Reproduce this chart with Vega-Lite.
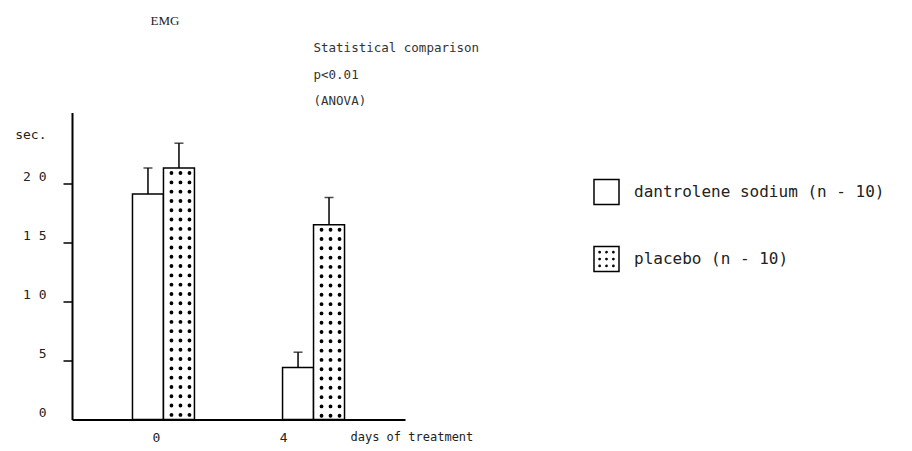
{
  "$schema": "https://vega.github.io/schema/vega-lite/v6.json",
  "width": 333,
  "height": 307,
  "autosize": {"type": "none"},
  "padding": {"left": 72, "top": 112.5, "right": 507, "bottom": 31.5},
  "data": {
    "values": [
      {"day": 0, "group": "dantrolene sodium (n - 10)", "value": 19.1, "upper": 21.3},
      {"day": 0, "group": "placebo (n - 10)", "value": 21.3, "upper": 23.4},
      {"day": 4, "group": "dantrolene sodium (n - 10)", "value": 4.4, "upper": 5.7},
      {"day": 4, "group": "placebo (n - 10)", "value": 16.5, "upper": 18.8}
    ]
  },
  "config": {
    "view": {"stroke": null},
    "font": "DejaVu Sans Mono",
    "axis": {"labelFont": "DejaVu Sans Mono", "titleFont": "DejaVu Sans Mono", "grid": false}
  },
  "resolve": {"axis": {"x": "independent", "y": "independent"}},
  "layer": [
    {
      "mark": {"type": "bar", "stroke": "black", "strokeWidth": 1.5},
      "encoding": {
        "x": {
          "field": "day", "type": "nominal",
          "scale": {"paddingInner": 0.587, "paddingOuter": 0.403},
          "axis": {
            "orient": "bottom",
            "domainColor": "black", "domainWidth": 2,
            "ticks": false,
            "labelAngle": 0,
            "labelPadding": 12,
            "labelFontSize": 13,
            "labelColor": "#222",
            "labelOffset": {"condition": {"test": "datum.value == 0", "value": -7}, "value": -30},
            "title": "days of treatment",
            "titleX": 278, "titleY": 17,
            "titleAlign": "left", "titleBaseline": "middle",
            "titleFontSize": 12, "titleFontWeight": "normal", "titleColor": "#222"
          }
        },
        "xOffset": {
          "field": "group", "type": "nominal",
          "sort": ["dantrolene sodium (n - 10)", "placebo (n - 10)"],
          "scale": {"paddingInner": 0, "paddingOuter": 0}
        },
        "y": {
          "field": "value", "type": "quantitative",
          "scale": {"domain": [0, 25]},
          "axis": {
            "values": [0, 5, 10, 15, 20, 25],
            "domainColor": "black", "domainWidth": 2,
            "tickColor": {"condition": {"test": "datum.value == 0 || datum.value == 25", "value": "transparent"}, "value": "black"},
            "tickSize": 9, "tickWidth": 1.5,
            "labelExpr": "datum.value == 25 ? 'sec.' : (datum.value >= 10 ? slice(datum.label, 0, 1) + ' ' + slice(datum.label, 1) : datum.label)",
            "labelFontSize": 13,
            "labelColor": "#222",
            "labelPadding": 17,
            "labelOffset": {"condition": {"test": "datum.value == 25", "value": 10}, "value": -7},
            "title": "EMG",
            "titleAngle": 0, "titleX": 78, "titleY": -92,
            "titleAlign": "left", "titleBaseline": "middle",
            "titleFont": "Liberation Serif", "titleFontSize": 13, "titleFontWeight": "normal", "titleColor": "#222"
          }
        },
        "fill": {
          "field": "group", "type": "nominal",
          "sort": ["dantrolene sodium (n - 10)", "placebo (n - 10)"],
          "scale": {"range": ["white", "white"]},
          "legend": {
            "orient": "none", "legendX": 521, "legendY": 66,
            "title": null,
            "padding": 0,
            "symbolType": "square", "symbolSize": 625,
            "symbolStrokeColor": "black", "symbolStrokeWidth": 1.5,
            "labelFont": "DejaVu Sans Mono", "labelFontSize": 16, "labelColor": "#222",
            "labelLimit": 400,
            "labelOffset": 14, "rowPadding": 36,
            "encode": {
              "symbols": {
                "update": {
                  "shape": {"signal": "datum.value === 'placebo (n - 10)' ? 'M-1,-1H1V1H-1Z M-0.6,-0.55a0.05,0.05 0 1,0 0.1,0a0.05,0.05 0 1,0 -0.1,0 M-0.05,-0.55a0.05,0.05 0 1,0 0.1,0a0.05,0.05 0 1,0 -0.1,0 M0.5,-0.55a0.05,0.05 0 1,0 0.1,0a0.05,0.05 0 1,0 -0.1,0 M-0.6,0a0.05,0.05 0 1,0 0.1,0a0.05,0.05 0 1,0 -0.1,0 M-0.05,0a0.05,0.05 0 1,0 0.1,0a0.05,0.05 0 1,0 -0.1,0 M0.5,0a0.05,0.05 0 1,0 0.1,0a0.05,0.05 0 1,0 -0.1,0 M-0.6,0.55a0.05,0.05 0 1,0 0.1,0a0.05,0.05 0 1,0 -0.1,0 M-0.05,0.55a0.05,0.05 0 1,0 0.1,0a0.05,0.05 0 1,0 -0.1,0 M0.5,0.55a0.05,0.05 0 1,0 0.1,0a0.05,0.05 0 1,0 -0.1,0' : 'square'"}
                }
              }
            }
          }
        }
      }
    },
    {
      "transform": [{"filter": "datum.group === 'placebo (n - 10)'"}],
      "mark": {"type": "rule", "color": "black", "xOffset": 8, "strokeWidth": 3.8, "strokeCap": "round", "strokeDash": [0.1, 9.2], "strokeDashOffset": 4.3},
      "encoding": {
        "x": {
          "field": "day", "type": "nominal",
          "axis": {
            "orient": "top",
            "domain": false, "ticks": false, "labels": false,
            "title": ["Statistical comparison", "p<0.01", "(ANOVA)"],
            "titleX": 241, "titleY": -71,
            "titleAlign": "left", "titleBaseline": "top",
            "titleFontSize": 12.5, "titleFontWeight": "normal",
            "titleLineHeight": 26.5, "titleColor": "#333"
          }
        },
        "y": {"field": "value", "type": "quantitative", "axis": null},
        "y2": {"datum": 0}
      }
    },
    {
      "transform": [{"filter": "datum.group === 'placebo (n - 10)'"}],
      "mark": {"type": "rule", "color": "black", "xOffset": 17, "strokeWidth": 3.8, "strokeCap": "round", "strokeDash": [0.1, 9.2], "strokeDashOffset": 4.3},
      "encoding": {
        "x": {"field": "day", "type": "nominal", "axis": null},
        "y": {"field": "value", "type": "quantitative", "axis": null},
        "y2": {"datum": 0}
      }
    },
    {
      "transform": [{"filter": "datum.group === 'placebo (n - 10)'"}],
      "mark": {"type": "rule", "color": "black", "xOffset": 26, "strokeWidth": 3.8, "strokeCap": "round", "strokeDash": [0.1, 9.2], "strokeDashOffset": 4.3},
      "encoding": {
        "x": {"field": "day", "type": "nominal", "axis": null},
        "y": {"field": "value", "type": "quantitative", "axis": null},
        "y2": {"datum": 0}
      }
    },
    {
      "mark": {"type": "rule", "color": "black", "strokeWidth": 1.5},
      "encoding": {
        "x": {"field": "day", "type": "nominal", "axis": null},
        "xOffset": {"field": "group", "type": "nominal", "sort": ["dantrolene sodium (n - 10)", "placebo (n - 10)"]},
        "y": {"field": "value", "type": "quantitative", "axis": null},
        "y2": {"field": "upper"}
      }
    },
    {
      "mark": {"type": "tick", "color": "black", "thickness": 1.5, "size": 9},
      "encoding": {
        "x": {"field": "day", "type": "nominal", "axis": null},
        "xOffset": {"field": "group", "type": "nominal", "sort": ["dantrolene sodium (n - 10)", "placebo (n - 10)"]},
        "y": {"field": "upper", "type": "quantitative", "axis": null}
      }
    }
  ]
}
